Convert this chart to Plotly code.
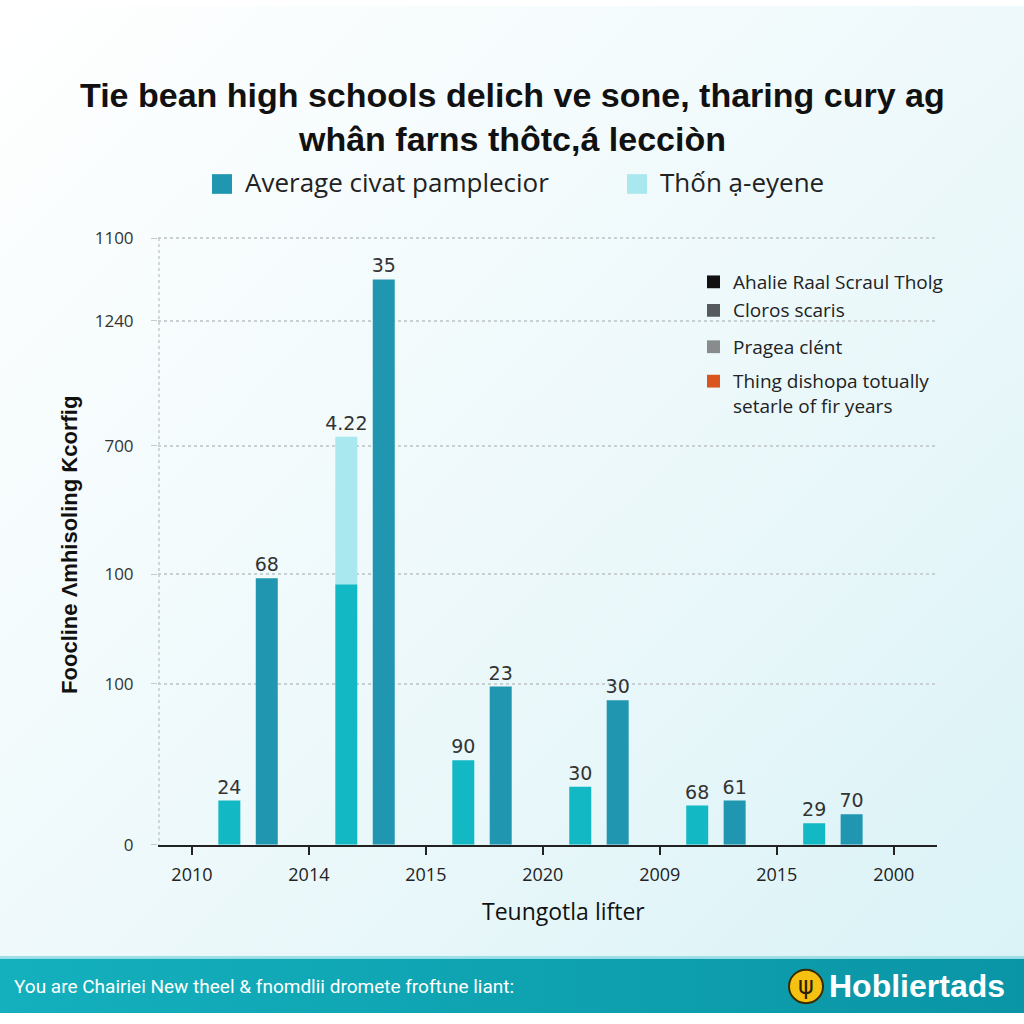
import base64
import plotly.graph_objects as go

# ---------------- data ----------------
x_tick_labels = ["2010", "2014", "2015", "2020", "2009", "2015", "2000"]
light_vals = [45, 265, 86, 59, 40, 22]
light_text = ["24", "", "90", "30", "68", "29"]
pale_vals = [None, 150, None, None, None, None]
pale_text = ["", "4.22", "", "", "", ""]
dark_vals = [271, 575, 161, 147, 45, 31]
dark_text = ["68", "35", "23", "30", "61", "70"]
y_tick_vals = [0, 164, 275, 406, 533, 617]
y_tick_text = ["0", "100", "100", "700", "1240", "1100"]

series_names = ["Average civat pamplecior", "Thốn ạ-eyene"]
side_legend = [
    ("#111111", "Ahalie Raal Scraul Tholg"),
    ("#555a5e", "Cloros scaris"),
    ("#888c8c", "Pragea clént"),
    ("#d9541e", "Thing dishopa totually<br>setarle of fir years"),
]
title_lines = ["Tie bean high schools delich ve sone, tharing cury ag",
               "whân farns thôtc,á lecciòn"]
y_title = "Foocline Λmhisoling Ƙcorfig"
x_title = "Teungotla lifter"
footer_text = "You are Chairiei New theel &amp; fnomdlii dromete froftιne liant:"
brand = "Hobliertads"

DARK = "#2196b0"
LIGHT = "#12b8c4"
PALE = "#a8e8ee"

W = H = 1024
def px(x): return x / W
def py(y): return 1 - y / H

group_x = [i + 0.5 for i in range(len(dark_vals))]
BW = 0.188
label_font = dict(size=19, color="#333", family="DejaVu Sans")

fig = go.Figure()
fig.add_bar(x=group_x, y=light_vals, width=BW, offset=-0.274, marker_color=LIGHT,
            text=light_text, textposition="outside", showlegend=False, constraintext="none",
            textfont=label_font, cliponaxis=False)
fig.add_bar(x=group_x, y=pale_vals, base=light_vals, width=BW, offset=-0.274, marker_color=PALE,
            text=pale_text, textposition="outside", name=series_names[1], showlegend=False,
            constraintext="none", textfont=label_font, cliponaxis=False)
fig.add_bar(x=group_x, y=dark_vals, width=BW, offset=0.046, marker_color=DARK,
            text=dark_text, textposition="outside", name=series_names[0], showlegend=False,
            constraintext="none", textfont=label_font, cliponaxis=False)
for tr in fig.data:
    tr.marker.line.width = 0

svg = ('<svg xmlns="http://www.w3.org/2000/svg" width="1024" height="1024">'
       '<defs><linearGradient id="g" x1="0" y1="0" x2="1" y2="1">'
       '<stop offset="0" stop-color="#ffffff"/><stop offset="0.5" stop-color="#eef9fb"/>'
       '<stop offset="1" stop-color="#d9f2f6"/></linearGradient>'
       '<linearGradient id="f" x1="0" y1="0" x2="1" y2="0">'
       '<stop offset="0" stop-color="#14b0bd"/><stop offset="1" stop-color="#0a95a6"/></linearGradient></defs>'
       '<rect width="1024" height="1024" fill="url(#g)"/>'
       '<rect y="968" width="1024" height="56" fill="url(#f)"/>'
       '<rect y="966" width="1024" height="3" fill="#9fdfe6"/>'
       '</svg>')
uri = "data:image/svg+xml;base64," + base64.b64encode(svg.encode()).decode()

shapes = []
annotations = []

# dotted y-axis line
shapes.append(dict(type="line", xref="paper", yref="paper", x0=px(159), x1=px(159),
                   y0=py(236), y1=py(853), line=dict(color="#c3cbcf", width=1.5, dash="dot")))

# title
for i, t in enumerate(title_lines):
    annotations.append(dict(text=t, x=0.5, y=py(90 + 45 * i), xref="paper", yref="paper",
                            showarrow=False, xanchor="center", yanchor="middle",
                            font=dict(size=34, color="#111", family="Liberation Sans", weight="bold")))

# top legend
for (x0, col, name) in [(212, DARK, series_names[0]), (627, PALE, series_names[1])]:
    shapes.append(dict(type="rect", xref="paper", yref="paper", x0=px(x0), x1=px(x0 + 20),
                       y0=py(191), y1=py(171), fillcolor=col, line=dict(width=0)))
    annotations.append(dict(text=name, x=px(x0 + 31), y=py(179), xref="paper", yref="paper",
                            showarrow=False, xanchor="left", yanchor="middle",
                            font=dict(size=26, color="#222", family="Open Sans")))

# side legend
side_y = [281, 310, 347, 382]
for (col, name), yy in zip(side_legend, side_y):
    shapes.append(dict(type="rect", xref="paper", yref="paper", x0=px(707), x1=px(720),
                       y0=py(yy + 6), y1=py(yy - 7), fillcolor=col, line=dict(width=0)))
    annotations.append(dict(text=name, x=px(731), y=py(yy - 16), xref="paper", yref="paper",
                            showarrow=False, xanchor="left", yanchor="top", align="left",
                            font=dict(size=19, color="#222", family="Open Sans")))

# axis titles
annotations.append(dict(text=y_title, x=px(70), y=py(548), xref="paper", yref="paper",
                        showarrow=False, textangle=-90, xanchor="center", yanchor="middle",
                        font=dict(size=22, color="#111", family="Liberation Sans", weight="bold")))
annotations.append(dict(text=x_title, x=px(563), y=py(920), xref="paper", yref="paper",
                        showarrow=False, xanchor="center", yanchor="middle",
                        font=dict(size=23, color="#111", family="Open Sans")))

# footer
annotations.append(dict(text=footer_text, x=px(12), y=py(997), xref="paper", yref="paper",
                        showarrow=False, xanchor="left", yanchor="middle",
                        font=dict(size=19, color="#ffffff", family="Roboto")))
shapes.append(dict(type="circle", xref="paper", yref="paper", x0=px(789), x1=px(823),
                   y0=py(1014), y1=py(980), fillcolor="#f5c211", line=dict(color="#3a2a00", width=2)))
annotations.append(dict(text="ψ", x=px(806), y=py(997), xref="paper", yref="paper",
                        showarrow=False, xanchor="center", yanchor="middle",
                        font=dict(size=24, color="#2a2000", family="DejaVu Sans")))
annotations.append(dict(text=brand, x=px(827), y=py(997), xref="paper", yref="paper",
                        showarrow=False, xanchor="left", yanchor="middle",
                        font=dict(size=32, color="#ffffff", family="Liberation Sans", weight="bold")))

fig.update_layout(
    width=W, height=H, margin=dict(l=0, r=0, t=0, b=0),
    paper_bgcolor="rgba(0,0,0,0)", plot_bgcolor="rgba(0,0,0,0)",
    barmode="overlay", showlegend=False,
    images=[dict(source=uri, xref="paper", yref="paper", x=0, y=1, sizex=1, sizey=1,
                 sizing="stretch", layer="below", xanchor="left", yanchor="top")],
    shapes=shapes, annotations=annotations,
    xaxis=dict(domain=[px(158), px(937)], range=[-0.29, 6.37],
               tickvals=list(range(len(x_tick_labels))), ticktext=x_tick_labels,
               showline=True, linecolor="#222", linewidth=2, ticks="outside", ticklen=8,
               tickcolor="#222", tickwidth=2, showgrid=False, zeroline=False,
               ticklabelstandoff=5,
               tickfont=dict(size=18, color="#222", family="Open Sans")),
    yaxis=dict(domain=[py(853), py(230)], range=[0, 623],
               tickvals=y_tick_vals, ticktext=y_tick_text,
               showline=False, ticks="outside", ticklen=6, tickcolor="#c3cbcf",
               showgrid=True, gridcolor="#c8d0d4", griddash="dot", gridwidth=1.5,
               zeroline=False, ticklabelstandoff=14,
               tickfont=dict(size=17, color="#333", family="Open Sans")),
)

fig.write_html("out.html")
